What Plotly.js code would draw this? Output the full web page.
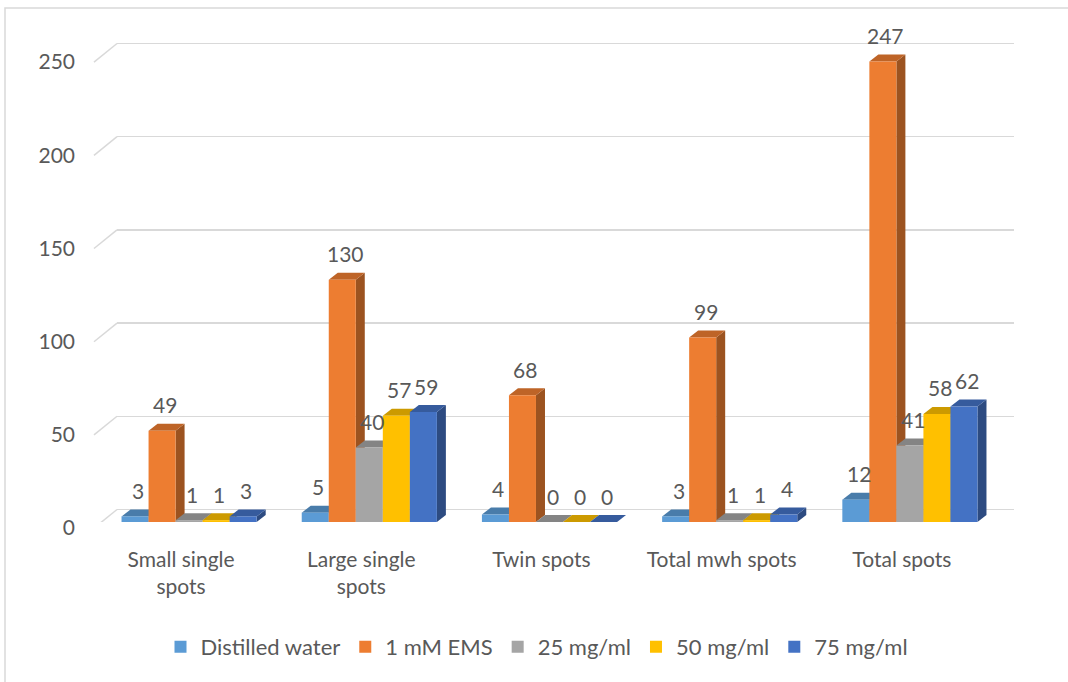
<!DOCTYPE html>
<html><head><meta charset="utf-8">
<script src="https://cdn.plot.ly/plotly-3.0.1.min.js"></script>
<style>html,body{margin:0;padding:0;background:#fff;}#chart{width:1068px;height:682px;}</style>
</head><body><div id="chart"></div>
<script>
const categories = ["Small single<br>spots", "Large single<br>spots", "Twin spots", "Total mwh spots", "Total spots"];
const seriesNames = ["Distilled water", "1 mM EMS", "25 mg/ml", "50 mg/ml", "75 mg/ml"];
const distilledWater = [3, 5, 4, 3, 12];
const ems1mM = [49, 130, 68, 99, 247];
const mg25 = [1, 40, 0, 1, 41];
const mg50 = [1, 57, 0, 1, 58];
const mg75 = [3, 59, 0, 4, 62];
const yTicks = [0, 50, 100, 150, 200, 250];
const colors = ["#5B9BD5", "#ED7D31", "#A5A5A5", "#FFC000", "#4472C4"];

const seriesValues = [distilledWater, ems1mM, mg25, mg50, mg75];
const catIdx = categories.map((c, i) => i);

// layout geometry
const W = 1068, H = 682;
const ML = 99, MR = 54, MT = 28, MB = 160;
const plotW = W - ML - MR, plotH = H - MT - MB;
const yMax = 265;
const pxPerUnit = plotH / yMax;
const backShiftPx = 12.5;               // back wall gridlines above the front floor
const backShift = backShiftPx / pxPerUnit;
const nCat = categories.length, nSer = seriesNames.length;
const bargap = 0.25;
const barW = (1 - bargap) / nSer;
const catPx = (plotW * (901 / 915)) / nCat;
const depthX = 9 / catPx;                 // 3D depth (category units)
const depthY = 7 / pxPerUnit;             // 3D depth (value units)
const textColor = "#595959";
const fontFam = "Lato, 'Open Sans', sans-serif";

function shade(hex, f) {
  const n = parseInt(hex.slice(1), 16);
  const r = Math.round(((n >> 16) & 255) * f), g = Math.round(((n >> 8) & 255) * f), b = Math.round((n & 255) * f);
  return `rgb(${r},${g},${b})`;
}

const traces = [{x: [], y: [], type: "scatter", xaxis: "x", yaxis: "y", showlegend: false, hoverinfo: "skip"}];
seriesNames.forEach((name, k) => {
  traces.push({
    type: "bar", name: name, x: catIdx, y: seriesValues[k],
    xaxis: "x2", yaxis: "y2",
    marker: {color: colors[k], line: {width: 0}},
    hoverinfo: "name+y"
  });
});

const shapes = [];
const annotations = [];
// 3D side and top faces for each bar
seriesValues.forEach((vals, k) => {
  vals.forEach((v, i) => {
    const xl = i + (k - (nSer - 1) / 2) * barW - barW / 2;
    const xr = xl + barW;
    shapes.push({type: "path", xref: "x2", yref: "y2", layer: "between", line: {width: 0},
      fillcolor: shade(colors[k], 0.66),
      path: `M${xr},0 L${xr + depthX},${depthY} L${xr + depthX},${v + depthY} L${xr},${v} Z`});
    shapes.push({type: "path", xref: "x2", yref: "y2", layer: "between", line: {width: 0},
      fillcolor: shade(colors[k], 0.8),
      path: `M${xl},${v} L${xl + depthX},${v + depthY} L${xr + depthX},${v + depthY} L${xr},${v} Z`});
    annotations.push({xref: "x2", yref: "y2", x: (xl + xr) / 2 + depthX / 3, y: v, yshift: 26,
      text: String(v), showarrow: false, yanchor: "middle", xanchor: "center",
      font: {family: fontFam, size: 21, color: textColor}});
  });
});
// diagonal floor lines from front labels to back wall
yTicks.forEach(t => {
  shapes.push({type: "line", xref: "paper", yref: "y", layer: "below",
    x0: (94 - ML) / plotW, x1: (117 - ML) / plotW, y0: t - 10, y1: t,
    line: {color: "#d9d9d9", width: 1.5}});
});
// chart border
shapes.push({type: "rect", xref: "paper", yref: "paper", layer: "below",
  x0: (5 - ML) / plotW, x1: (1080 - ML) / plotW, y0: (MT + plotH - 695) / plotH, y1: (MT + plotH - 8) / plotH,
  line: {color: "#d9d9d9", width: 1.5}, fillcolor: "rgba(0,0,0,0)"});

const layout = {
  width: W, height: H,
  margin: {l: ML, r: MR, t: MT, b: MB},
  paper_bgcolor: "#ffffff", plot_bgcolor: "rgba(0,0,0,0)",
  font: {family: fontFam, size: 21, color: textColor},
  barmode: "group", bargap: bargap, bargroupgap: 0,
  showlegend: true,
  legend: {orientation: "h", x: (537 - ML) / plotW, xanchor: "center", y: (MT + plotH - 647) / plotH, yanchor: "middle",
    font: {family: fontFam, size: 22, color: textColor}, bgcolor: "rgba(0,0,0,0)"},
  xaxis: {domain: [(117 - ML) / plotW, 1], range: [0, 1], showgrid: false, zeroline: false, showline: false,
    showticklabels: false, ticks: "", fixedrange: true},
  yaxis: {domain: [0, 1], range: [-backShift, yMax - backShift], tickvals: yTicks, showgrid: true,
    gridcolor: "#d9d9d9", gridwidth: 1.5, zeroline: false, showline: false, showticklabels: false, ticks: ""},
  xaxis2: {domain: [0, 901 / 915], range: [-0.5, nCat - 0.5], anchor: "y2", tickvals: catIdx, ticktext: categories,
    showgrid: false, zeroline: false, showline: false, ticks: "", ticklabelstandoff: 23, ticklabelshift: -8,
    tickfont: {family: fontFam, size: 21, color: textColor}},
  yaxis2: {domain: [0, 1], range: [0, yMax], anchor: "x2", tickvals: yTicks, showgrid: false, zeroline: false,
    showline: false, ticks: "", ticklabelstandoff: 23, ticklabelshift: 6,
    tickfont: {family: fontFam, size: 21, color: textColor}},
  shapes: shapes,
  annotations: annotations
};

Plotly.newPlot("chart", traces, layout, {displayModeBar: false, staticPlot: true});
</script>
</body></html>
